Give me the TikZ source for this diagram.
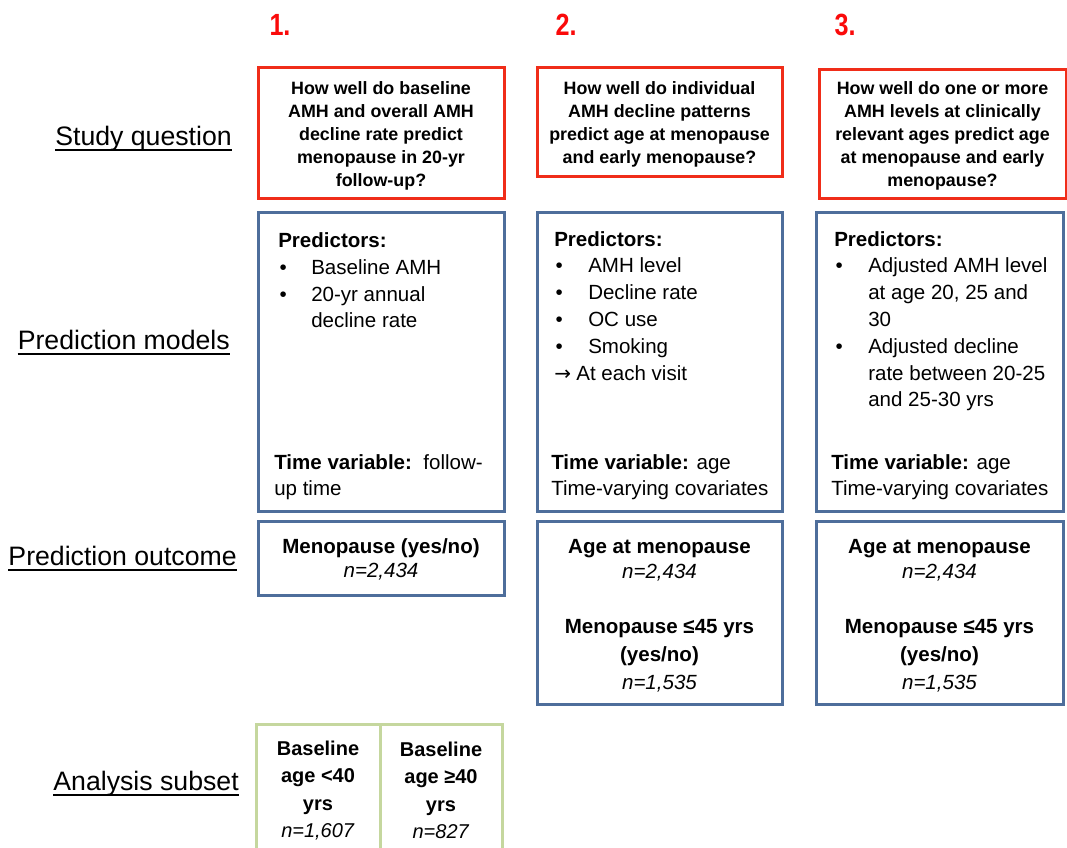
\documentclass[tikz,border=0pt]{standalone}
\usepackage{fontspec}
\setmainfont{Liberation Sans}
\newfontfamily\narrowfont[FakeStretch=0.82]{Liberation Sans}
\newfontfamily\arrowfont{DejaVu Sans}
\usepackage{array}
\definecolor{qred}{RGB}{240,45,25}
\definecolor{numred}{RGB}{250,10,10}
\definecolor{pblue}{RGB}{78,110,155}
\definecolor{sgreen}{RGB}{197,215,158}
\begin{document}
\begin{tikzpicture}[x=0.75pt,y=-0.75pt,
  qbox/.style={draw=qred, line width=2.25pt, inner sep=0pt},
  qtext/.style={inner sep=0pt, align=center,
    font=\fontsize{13.4}{17.25}\selectfont\bfseries},
  pbox/.style={draw=pblue, line width=2.25pt, inner sep=0pt},
  otext/.style={inner sep=0pt, align=center,
    font=\fontsize{15.4}{20.8}\selectfont},
  sbox/.style={draw=sgreen, line width=2.25pt, inner sep=0pt, align=center,
    font=\fontsize{15}{20.6}\selectfont},
  ptext/.style={inner sep=0pt, anchor=base west, font=\fontsize{15.4}{20.1}\selectfont},
  ttext/.style={inner sep=0pt, anchor=base west, align=left, font=\fontsize{15.4}{19.5}\selectfont},
  lbl/.style={inner sep=0pt, anchor=base east, font=\fontsize{20}{24}\selectfont},
  uline/.style={line width=1.6pt},
  num/.style={inner sep=0pt, text=numred, font=\fontsize{23}{26}\narrowfont\bfseries}
]
\useasboundingbox (0,0) rectangle (1067,847);

% numbers
\node[num] (n1) at (280,25) {1.};
\node[num] (n2) at (566,25) {2.};
\node[num] (n3) at (845,25) {3.};

% left labels
\node[lbl] (l1) at (232,145.5) {Study question};
\node[lbl] (l2) at (230,349) {Prediction models};
\node[lbl] (l3) at (237,565) {Prediction outcome};
\node[lbl] (l4) at (239,790) {Analysis subset};
\foreach \l in {l1,l2,l3,l4}
  \draw[uline] ([yshift=-3.5pt]\l.base west) -- ([yshift=-3.5pt]\l.base east);

% study questions
\node[qbox, minimum width=184.5pt, minimum height=98.25pt] (q1) at (381,132.5) {};
\node[qbox, minimum width=183.75pt, minimum height=81.75pt] (q2) at (659.5,121.5) {};
\node[qbox, minimum width=185.25pt, minimum height=96.75pt] (q3) at (942.5,133.5) {};
\node[qtext] (q1t) at (381,136)
  {How well do baseline\\AMH and overall AMH\\decline rate predict\\menopause in 20-yr\\follow-up?};
\node[qtext] (q2t) at (659.5,124)
  {How well do individual\\AMH decline patterns\\predict age at menopause\\and early menopause?};
\node[qtext] (q3t) at (942.5,136)
  {How well do one or more\\AMH levels at clinically\\relevant ages predict age\\at menopause and early\\menopause?};

% prediction model boxes
\node[pbox, minimum width=184.5pt, minimum height=224.25pt] (p1) at (381,361.5) {};
\node[pbox, minimum width=183.75pt, minimum height=224.25pt] (p2) at (659.5,361.5) {};
\node[pbox, minimum width=185.25pt, minimum height=224.25pt] (p3) at (939.5,361.5) {};

\node[ptext] (p1list) at (278,247.5) {\begin{tabular}[t]{@{}p{24.75pt}@{}l@{}}
\multicolumn{2}{@{}l@{}}{\bfseries Predictors:}\\
\hspace{1pt}• & Baseline AMH\\
\hspace{1pt}• & 20-yr annual\\
 & decline rate
\end{tabular}};
\node[ttext] (p1time) at (274,495) {\textbf{Time variable:}\ \ follow-\\up time};

\node[ptext] (p2list) at (554,246) {\begin{tabular}[t]{@{}p{25.5pt}@{}l@{}}
\multicolumn{2}{@{}l@{}}{\bfseries Predictors:}\\
\hspace{1pt}• & AMH level\\
\hspace{1pt}• & Decline rate\\
\hspace{1pt}• & OC use\\
\hspace{1pt}• & Smoking\\
\multicolumn{2}{@{}l@{}}{{\arrowfont\fontsize{15}{18}\selectfont →}\hspace{4pt}At each visit}
\end{tabular}};
\node[ttext] (p2time) at (551,495) {\textbf{Time variable:} age\\Time-varying covariates};

\node[ptext] (p3list) at (834,246) {\begin{tabular}[t]{@{}p{25.5pt}@{}l@{}}
\multicolumn{2}{@{}l@{}}{\bfseries Predictors:}\\
\hspace{1pt}• & Adjusted AMH level\\
 & at age 20, 25 and\\
 & 30\\
\hspace{1pt}• & Adjusted decline\\
 & rate between 20-25\\
 & and 25-30 yrs
\end{tabular}};
\node[ttext] (p3time) at (831,495) {\textbf{Time variable:} age\\Time-varying covariates};

% outcome boxes
\node[pbox, minimum width=184.5pt, minimum height=55.5pt] (o1) at (381,558) {};
\node[pbox, minimum width=183.75pt, minimum height=137.25pt] (o2) at (659.5,612.5) {};
\node[pbox, minimum width=185.25pt, minimum height=137.25pt] (o3) at (939.5,612.5) {};
\node[otext] (o1t) at (381,559.5)
  {\textbf{Menopause (yes/no)}\\[-2.5pt]\textit{n=2,434}};
\node[otext] (o2t) at (659.5,615.5)
  {\textbf{Age at menopause}\\[-2pt]\textit{n=2,434}\\[21pt]\textbf{Menopause ≤45 yrs}\\\textbf{(yes/no)}\\\textit{n=1,535}};
\node[otext] (o3t) at (939.5,615.5)
  {\textbf{Age at menopause}\\[-2pt]\textit{n=2,434}\\[21pt]\textbf{Menopause ≤45 yrs}\\\textbf{(yes/no)}\\\textit{n=1,535}};

% analysis subset
\node[sbox, minimum width=93pt, minimum height=99pt] (s1) at (318,790.5)
  {\textbf{Baseline}\\\textbf{age <40}\\\textbf{yrs}\\\textit{n=1,607}};
\node[sbox, minimum width=91.5pt, minimum height=99pt] (s2) at (441,790.5)
  {\textbf{Baseline}\\\textbf{age ≥40}\\\textbf{yrs}\\\textit{n=827}};
\end{tikzpicture}
\end{document}
